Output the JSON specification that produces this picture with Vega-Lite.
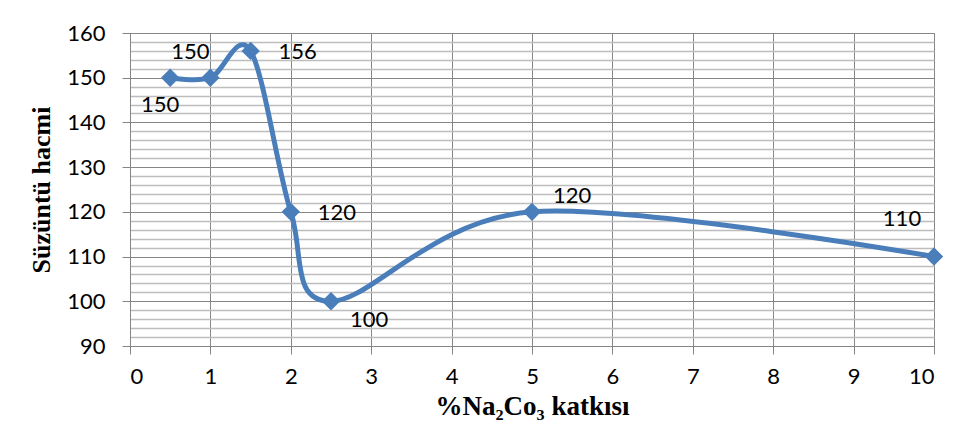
{
  "$schema": "https://vega.github.io/schema/vega-lite/v6.json",
  "autosize": "none",
  "width": 804,
  "height": 313,
  "padding": {"left": 130, "top": 33, "right": 39, "bottom": 86},
  "background": "white",
  "config": {
    "view": {"stroke": "#868686", "strokeWidth": 1},
    "axis": {"labelFont": "Lato", "labelFontSize": 22, "labelColor": "#000000", "titleFont": "Liberation Serif", "titleFontWeight": "bold", "titleFontSize": 26, "titleColor": "#000000", "domainColor": "#868686", "tickColor": "#868686", "tickSize": 8}
  },
  "data": {"values": [
    {"x": 0.5, "y": 150},
    {"x": 1, "y": 150},
    {"x": 1.5, "y": 156},
    {"x": 2, "y": 120},
    {"x": 2.5, "y": 100},
    {"x": 5, "y": 120},
    {"x": 10, "y": 110}
  ]},
  "encoding": {
    "x": {"field": "x", "type": "quantitative", "scale": {"domain": [0, 10], "nice": false, "zero": false},
      "axis": {"values": [0,1,2,3,4,5,6,7,8,9,10], "title": "%Na₂Co₃ katkısı", "titleFontSize": 27, "labelPadding": 12, "titlePadding": 6, "gridColor": "#868686", "gridWidth": 1}},
    "y": {"field": "y", "type": "quantitative", "scale": {"domain": [90, 160], "nice": false, "zero": false},
      "axis": {"values": [90,92,94,96,98,100,102,104,106,108,110,112,114,116,118,120,122,124,126,128,130,132,134,136,138,140,142,144,146,148,150,152,154,156,158,160],
        "labelExpr": "datum.value % 10 === 0 ? datum.label : ''",
        "tickOpacity": {"condition": {"test": "datum.value % 10 === 0", "value": 1}, "value": 0},
        "gridColor": {"condition": {"test": "datum.value % 10 === 0", "value": "#868686"}, "value": "#bdbdbd"},
        "gridWidth": {"condition": {"test": "datum.value % 10 === 0", "value": 1}, "value": 1.5},
        "title": "Süzüntü hacmi", "labelPadding": 17, "titlePadding": 12}}
  },
  "layer": [
    {"mark": {"type": "line", "interpolate": "cardinal", "color": "#4a7ebb", "strokeWidth": 5}},
    {"mark": {"type": "point", "shape": "diamond", "filled": true, "size": 340, "color": "#4a7ebb", "opacity": 1}},
    {"transform": [{"filter": "datum.x === 0.5"}], "mark": {"type": "text", "font": "Lato", "fontSize": 22, "align": "center", "baseline": "middle", "dx": -10, "dy": 27}, "encoding": {"text": {"field": "y"}}},
    {"transform": [{"filter": "datum.x === 1"}], "mark": {"type": "text", "font": "Lato", "fontSize": 22, "align": "center", "baseline": "middle", "dx": -20, "dy": -26}, "encoding": {"text": {"field": "y"}}},
    {"transform": [{"filter": "datum.x === 1.5"}], "mark": {"type": "text", "font": "Lato", "fontSize": 22, "align": "left", "baseline": "middle", "dx": 28, "dy": 1}, "encoding": {"text": {"field": "y"}}},
    {"transform": [{"filter": "datum.x === 2"}], "mark": {"type": "text", "font": "Lato", "fontSize": 22, "align": "left", "baseline": "middle", "dx": 27, "dy": 1}, "encoding": {"text": {"field": "y"}}},
    {"transform": [{"filter": "datum.x === 2.5"}], "mark": {"type": "text", "font": "Lato", "fontSize": 22, "align": "left", "baseline": "middle", "dx": 19, "dy": 19}, "encoding": {"text": {"field": "y"}}},
    {"transform": [{"filter": "datum.x === 5"}], "mark": {"type": "text", "font": "Lato", "fontSize": 22, "align": "left", "baseline": "middle", "dx": 21, "dy": -16}, "encoding": {"text": {"field": "y"}}},
    {"transform": [{"filter": "datum.x === 10"}], "mark": {"type": "text", "font": "Lato", "fontSize": 22, "align": "center", "baseline": "middle", "dx": -32, "dy": -38}, "encoding": {"text": {"field": "y"}}}
  ]
}
